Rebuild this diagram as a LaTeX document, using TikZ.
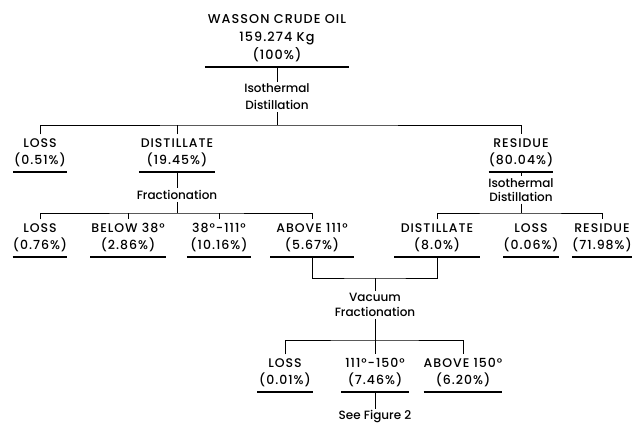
\documentclass[tikz,border=0pt]{standalone}
\usepackage{fontspec}
\setmainfont{Poppins}[UprightFont={* Medium}]
\newfontfamily\capsfont{Poppins}[UprightFont={* Medium},LetterSpace=8]
\usepackage{tikz}

\begin{document}
\begin{tikzpicture}[x=1pt,y=-1pt,
  item/.style={align=center,anchor=south,inner xsep=0pt,inner ysep=4.5pt,font=\capsfont\fontsize{12.5}{17}\selectfont},
  proc/.style={align=center,inner sep=2pt,font=\fontsize{12}{17}\selectfont},
  ul/.style={line width=1.8pt},
  conn/.style={line width=0.9pt}]
%\draw[help lines,step=20](0,0)grid(633,424);
\useasboundingbox (0,0) rectangle (633,424);

\node[item,minimum width=144,font=\capsfont\fontsize{12.8}{18}\selectfont] (crude) at (277,67) {WASSON CRUDE OIL\\159.274 Kg\\(100\%)};
\node[proc] (iso1) at (277,97) {Isothermal\\Distillation};

\node[item,minimum width=53] (loss1) at (40,172) {LOSS\\(0.51\%)};
\node[item,minimum width=76] (dist1) at (177,172) {DISTILLATE\\(19.45\%)};
\node[item,minimum width=61] (res1) at (521,172) {RESIDUE\\(80.04\%)};
\node[proc] (frac1) at (177,195) {Fractionation};
\node[proc,font=\fontsize{12}{14}\selectfont] (iso2) at (521,190) {Isothermal\\Distillation};

\node[item,minimum width=53] (loss2) at (40,257) {LOSS\\(0.76\%)};
\node[item,minimum width=75] (below) at (128,257) {BELOW 38°\\(2.86\%)};
\node[item,minimum width=64] (mid38) at (219,257) {38°-111°\\(10.16\%)};
\node[item,minimum width=83] (above111) at (312,257) {ABOVE 111°\\(5.67\%)};
\node[item,minimum width=85] (dist2) at (437,257) {DISTILLATE\\(8.0\%)};
\node[item,minimum width=55] (loss3) at (531,257) {LOSS\\(0.06\%)};
\node[item,minimum width=60] (res2) at (602,257) {RESIDUE\\(71.98\%)};
\node[proc,font=\fontsize{12}{15}\selectfont] (vac) at (375,305) {Vacuum\\Fractionation};

\node[item,minimum width=55] (loss4) at (285,392) {LOSS\\(0.01\%)};
\node[item,minimum width=67] (r111) at (375,392) {111°-150°\\(7.46\%)};
\node[item,minimum width=75] (above150) at (463,392) {ABOVE 150°\\(6.20\%)};
\node[proc] (seefig) at (375,417) {See Figure 2};

\coordinate (bus1) at (277,125);
\coordinate (bus2) at (177,213);
\coordinate (bus3) at (521,213);
\coordinate (bvac) at (375,278);
\coordinate (bus4) at (375,340);

\foreach \n in {crude,loss1,dist1,res1,loss2,below,mid38,above111,dist2,loss3,res2,loss4,r111,above150}
  \draw[ul] (\n.south west) -- (\n.south east);

\draw[conn] (crude.south) -- (iso1.north);
\draw[conn] (iso1.south) -- (bus1);
\draw[conn] (loss1.north) |- (bus1) -| (res1.north);
\draw[conn] (dist1.north) -- (dist1.north |- bus1);
\draw[conn] (dist1.south) -- (frac1.north);
\draw[conn] (frac1.south) -- (bus2);
\draw[conn] (loss2.north) |- (bus2) -| (above111.north);
\foreach \n in {below,mid38}
  \draw[conn] (\n.north) -- (\n.north |- bus2);
\draw[conn] (res1.south) -- (iso2.north);
\draw[conn] (iso2.south) -- (bus3);
\draw[conn] (dist2.north) |- (bus3) -| (res2.north);
\draw[conn] (above111.south) |- (bvac) -| (dist2.south);
\draw[conn] (bvac) -- (vac.north);
\draw[conn] (vac.south) -- (bus4);
\draw[conn] (loss4.north) |- (bus4) -| (above150.north);
\draw[conn] (bus4) -- (r111.north);
\draw[conn] (r111.south) -- (seefig.north);
\end{tikzpicture}
\end{document}
